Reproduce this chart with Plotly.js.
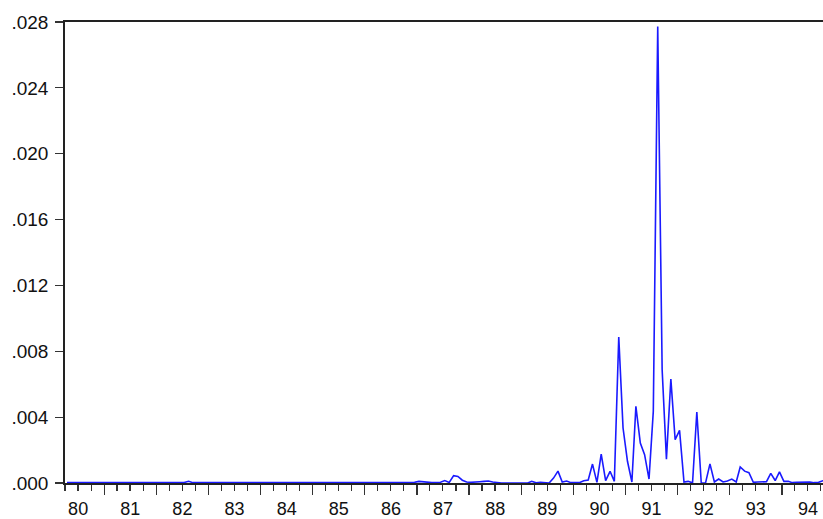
<!DOCTYPE html>
<html>
<head>
<meta charset="utf-8">
<script src="https://cdn.plot.ly/plotly-3.0.1.min.js"></script>
<style>
  html, body { margin: 0; padding: 0; background: #ffffff; }
  #chart { width: 823px; height: 519px; }
</style>
</head>
<body>
<div id="chart"></div>
<script>
// Monthly series, first observation April 1980
const startYear = 1980;
const startMonth = 4;

const values = [
  // 1980 Apr-Dec
  0.00002, 0.00002, 0.00003, 0.00003, 0.00002, 0.00002, 0.00002, 0.00003, 0.00003,
  // 1981
  0.00002, 0.00002, 0.00002, 0.00001, 0.00002, 0.00002, 0.00002, 0.00002, 0.00002, 0.00002, 0.00001, 0.00002,
  // 1982
  0.00002, 0.00002, 0.00002, 0.00002, 0.00002, 0.00002, 0.00003, 0.00010, 0.00002, 0.00002, 0.00002, 0.00002,
  // 1983
  0.00002, 0.00001, 0.00002, 0.00002, 0.00002, 0.00002, 0.00001, 0.00002, 0.00002, 0.00002, 0.00002, 0.00002,
  // 1984
  0.00002, 0.00002, 0.00002, 0.00001, 0.00002, 0.00002, 0.00002, 0.00002, 0.00002, 0.00002, 0.00002, 0.00002,
  // 1985
  0.00002, 0.00002, 0.00001, 0.00002, 0.00002, 0.00002, 0.00002, 0.00002, 0.00002, 0.00001, 0.00002, 0.00002,
  // 1986
  0.00002, 0.00002, 0.00002, 0.00002, 0.00002, 0.00002, 0.00002, 0.00002, 0.00002, 0.00002, 0.00003, 0.00004,
  // 1987
  0.00010, 0.00006, 0.00003, 0.00002, 0.00003, 0.00005, 0.00015, 0.00003, 0.00045, 0.00040, 0.00017, 0.00006,
  // 1988
  0.00004, 0.00004, 0.00008, 0.00010, 0.00012, 0.00006, 0.00002, 0.00000, 0.00000, 0.00000, 0.00001, 0.00000,
  // 1989
  0.00003, 0.00000, 0.00010, 0.00001, 0.00004, 0.00000, 0.00000, 0.00030, 0.00072, 0.00006, 0.00012, 0.00002,
  // 1990
  0.00001, 0.00003, 0.00014, 0.00018, 0.00115, 0.00004, 0.00176, 0.00014, 0.00071, 0.00010, 0.00887, 0.00334,
  // 1991
  0.00132, 0.00006, 0.00466, 0.00243, 0.00172, 0.00024, 0.00435, 0.02773, 0.00688, 0.00144, 0.00632, 0.00263,
  // 1992
  0.00320, 0.00006, 0.00010, 0.00001, 0.00431, 0.00000, 0.00001, 0.00116, 0.00006, 0.00024, 0.00006, 0.00012,
  // 1993
  0.00024, 0.00006, 0.00097, 0.00072, 0.00063, 0.00004, 0.00006, 0.00008, 0.00008, 0.00058, 0.00015, 0.00068,
  // 1994
  0.00010, 0.00010, 0.00002, 0.00004, 0.00006, 0.00008, 0.00006, 0.00002, 0.00004, 0.00014, 0.00010
];

const yTickVals = [0, 0.004, 0.008, 0.012, 0.016, 0.020, 0.024, 0.028];
const yTickText = [".000", ".004", ".008", ".012", ".016", ".020", ".024", ".028"];

// build monthly dates (mid-month) for each observation
const dates = values.map((v, i) => {
  const idx = (startMonth - 1) + i;
  const y = startYear + Math.floor(idx / 12);
  const m = (idx % 12) + 1;
  return y + "-" + String(m).padStart(2, "0") + "-15";
});

const fontFamily = "Arial, 'Liberation Sans', Helvetica, sans-serif";

const trace = {
  x: dates,
  y: values,
  type: "scatter",
  mode: "lines",
  line: { color: "#1a1aff", width: 1.6 },
  hoverinfo: "skip"
};

const layout = {
  width: 823,
  height: 519,
  margin: { l: 65, r: 0, t: 22, b: 36, pad: 0 },
  paper_bgcolor: "#ffffff",
  plot_bgcolor: "#ffffff",
  showlegend: false,
  xaxis: {
    type: "date",
    range: ["1980-04-01", "1994-10-16"],
    tick0: "1980-01-01",
    dtick: "M12",
    tickformat: "%y",
    ticklabelmode: "period",
    ticks: "outside",
    ticklen: 10,
    tickwidth: 1.2,
    tickcolor: "#333333",
    ticklabelstandoff: -1,
    showline: true,
    linecolor: "#222222",
    linewidth: 1.8,
    mirror: true,
    showgrid: false,
    zeroline: false,
    tickfont: { family: fontFamily, size: 18, color: "#111111" },
    minor: {
      tick0: "1980-01-01",
      dtick: "M3",
      ticks: "outside",
      ticklen: 6,
      tickwidth: 1.2,
      tickcolor: "#333333",
      showgrid: false
    }
  },
  yaxis: {
    range: [0, 0.028],
    tickmode: "array",
    tickvals: yTickVals,
    ticktext: yTickText,
    ticks: "outside",
    ticklen: 8,
    tickwidth: 1.2,
    tickcolor: "#333333",
    ticklabelstandoff: 3,
    showline: true,
    linecolor: "#222222",
    linewidth: 1.8,
    mirror: false,
    showgrid: false,
    zeroline: false,
    tickfont: { family: fontFamily, size: 19, color: "#111111" }
  }
};

Plotly.newPlot("chart", [trace], layout, { displayModeBar: false, staticPlot: true });
</script>
</body>
</html>
